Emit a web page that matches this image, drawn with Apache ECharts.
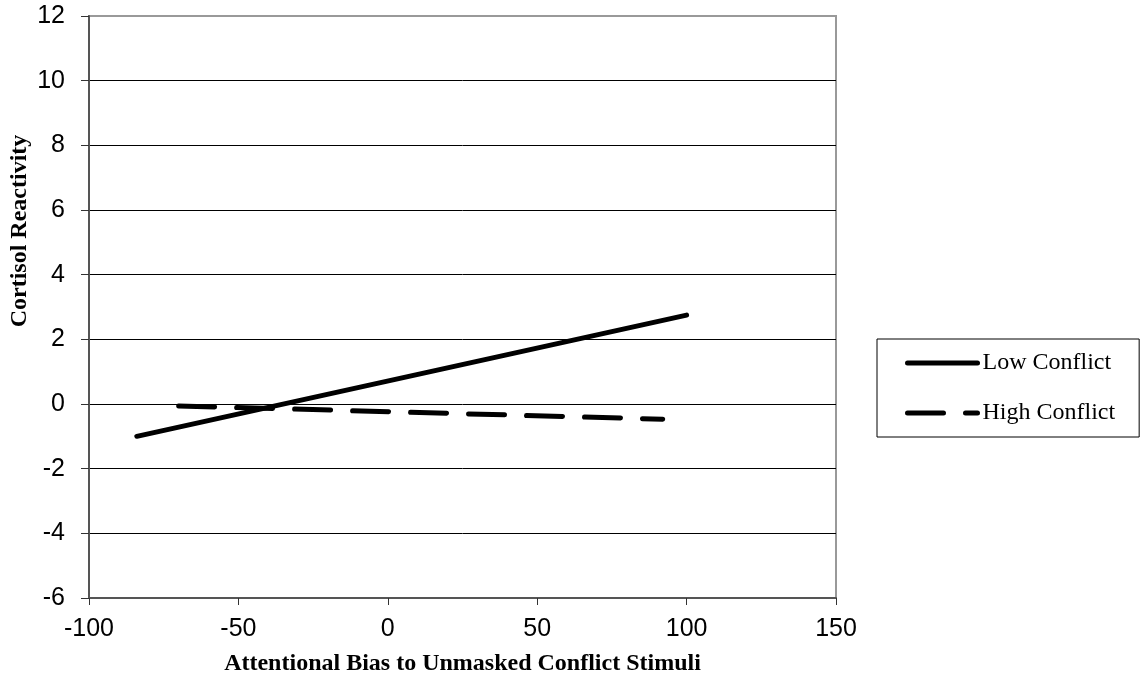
<!DOCTYPE html>
<html>
<head>
<meta charset="utf-8">
<script src="https://cdn.jsdelivr.net/npm/echarts@6/dist/echarts.min.js"></script>
<style>
  html, body { margin: 0; padding: 0; background: #fff; }
  #chart { width: 1145px; height: 686px; }
</style>
</head>
<body>
<div id="chart"></div>
<script>
// series: simple slopes, two end points each
var seriesNames = ['Low Conflict', 'High Conflict']
var lowX = [-84, 100]
var lowY = [-1.0, 2.75]
var highX = [-70, 92]
var highY = [-0.06, -0.47]

var xTicks = { min: -100, max: 150, step: 50 }
var yTicks = { min: -6, max: 12, step: 2 }

function pairs (xs, ys) {
  return xs.map(function (x, i) { return [x, ys[i]] })
}

var serifFont = '"Liberation Serif", "Times New Roman", serif'
var sansFont = '"Liberation Sans", Arial, sans-serif'

// grid lines: black, the top one grey like the plot border
var splitColors = []
for (var v = yTicks.min; v <= yTicks.max; v += yTicks.step) {
  splitColors.push(v === yTicks.max ? '#999999' : '#000000')
}

var myChart = echarts.init(document.getElementById('chart'))
myChart.setOption({
  animation: false,
  backgroundColor: '#ffffff',
  grid: {
    left: 89,
    right: 309,
    top: 16,
    bottom: 88,
    outerBoundsMode: 'none',
    containLabel: false,
    show: true,
    borderColor: '#999999',
    borderWidth: 2
  },
  legend: {
    orient: 'vertical',
    left: 877,
    top: 339,
    width: 261,
    padding: [12, 24, 12, 28],
    itemWidth: 70,
    itemHeight: 14,
    itemGap: 26,
    borderColor: '#000000',
    borderWidth: 1,
    backgroundColor: '#ffffff',
    itemStyle: { opacity: 0 },
    lineStyle: { width: 5, cap: 'round' },
    textStyle: { fontFamily: serifFont, fontSize: 24, color: '#000', lineHeight: 24 },
    data: seriesNames
  },
  xAxis: {
    type: 'value',
    min: xTicks.min,
    max: xTicks.max,
    interval: xTicks.step,
    name: 'Attentional Bias to Unmasked Conflict Stimuli',
    nameLocation: 'middle',
    nameGap: 54,
    nameTextStyle: { fontFamily: serifFont, fontSize: 24, fontWeight: 'bold', color: '#000' },
    axisLine: { onZero: false, lineStyle: { color: '#555555', width: 2 } },
    axisTick: { length: 7, lineStyle: { color: '#333333' } },
    axisLabel: { margin: 19, fontFamily: sansFont, fontSize: 25, color: '#000' },
    splitLine: { show: false }
  },
  yAxis: {
    type: 'value',
    min: yTicks.min,
    max: yTicks.max,
    interval: yTicks.step,
    name: 'Cortisol Reactivity',
    nameLocation: 'middle',
    nameGap: 57,
    nameMoveOverlap: false,
    nameTextStyle: {
      fontFamily: serifFont,
      fontSize: 24,
      fontWeight: 'bold',
      color: '#000',
      padding: [0, 0, 0, 152]
    },
    axisLine: { show: true, onZero: false, lineStyle: { color: '#555555', width: 2 } },
    axisTick: { show: true, length: 8, lineStyle: { color: '#333333' } },
    axisLabel: { margin: 24, fontFamily: sansFont, fontSize: 25, color: '#000' },
    splitLine: { show: true, lineStyle: { color: splitColors, width: 1 } }
  },
  series: [
    {
      name: seriesNames[0],
      type: 'line',
      symbol: 'none',
      data: pairs(lowX, lowY),
      lineStyle: { color: '#000', width: 5, cap: 'round' },
      itemStyle: { color: '#000' }
    },
    {
      name: seriesNames[1],
      type: 'line',
      symbol: 'none',
      data: pairs(highX, highY),
      lineStyle: { color: '#000', width: 5, cap: 'round', type: [36, 22] },
      itemStyle: { color: '#000' }
    }
  ]
})
</script>
</body>
</html>
